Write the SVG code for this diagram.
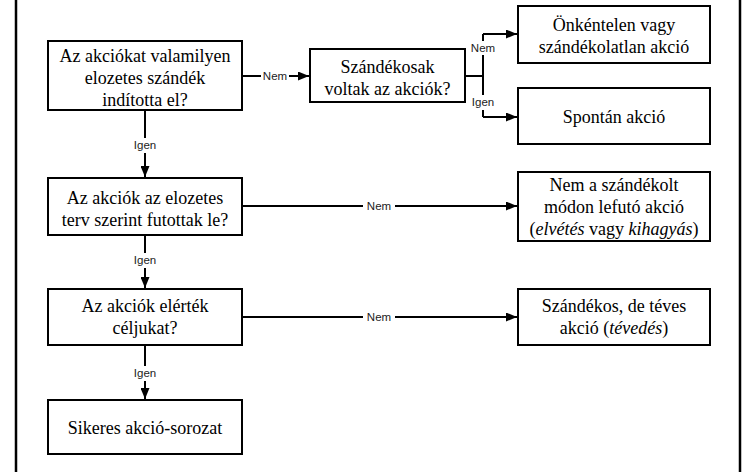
<svg xmlns="http://www.w3.org/2000/svg" width="743" height="472" viewBox="0 0 743 472">
<style>
.box{fill:#fff;stroke:#000;stroke-width:2}
.t{font-size:18px;fill:#000;text-anchor:middle}
.i{font-style:italic}
.c{fill:none;stroke:#000;stroke-width:2}
.lb{font-size:11.5px;fill:#222;text-anchor:middle}
.bg{fill:#fff}
.frame{stroke:#000;stroke-width:2.5}
</style>
<defs>
<marker id="ah" markerUnits="userSpaceOnUse" markerWidth="11" markerHeight="9" refX="11" refY="4.5" orient="auto">
<path d="M0,0 L11,4.5 L0,9 z" fill="#000"/>
</marker>
</defs>
<g id="frame">
<line class="frame" x1="16" y1="0" x2="16" y2="472"/>
<line class="frame" x1="740" y1="0" x2="740" y2="472"/>
</g>
<g id="connectors" font-family="Liberation Sans, Arial, sans-serif">
<path class="c" d="M242,76 H309" marker-end="url(#ah)"/>
<rect class="bg" x="261" y="69" width="28" height="14"/>
<text class="lb" x="275" y="80">Nem</text>
<path class="c" d="M465,76 H483"/>
<path class="c" d="M483,34 V117"/>
<path class="c" d="M483,34 H517" marker-end="url(#ah)"/>
<path class="c" d="M483,117 H517" marker-end="url(#ah)"/>
<rect class="bg" x="469" y="41" width="28" height="14"/>
<text class="lb" x="483" y="52">Nem</text>
<rect class="bg" x="470" y="95" width="26" height="15"/>
<text class="lb" x="483" y="106">Igen</text>
<path class="c" d="M145,110 V177" marker-end="url(#ah)"/>
<rect class="bg" x="132" y="138" width="26" height="15"/>
<text class="lb" x="145" y="149">Igen</text>
<path class="c" d="M145,235 V288" marker-end="url(#ah)"/>
<rect class="bg" x="132" y="253" width="26" height="15"/>
<text class="lb" x="145" y="264">Igen</text>
<path class="c" d="M145,345 V399" marker-end="url(#ah)"/>
<rect class="bg" x="132" y="366" width="26" height="15"/>
<text class="lb" x="145" y="377">Igen</text>
<path class="c" d="M242,206 H517" marker-end="url(#ah)"/>
<rect class="bg" x="363" y="199" width="32" height="14"/>
<text class="lb" x="379" y="210">Nem</text>
<path class="c" d="M242,317 H517" marker-end="url(#ah)"/>
<rect class="bg" x="363" y="310" width="32" height="14"/>
<text class="lb" x="379" y="321">Nem</text>
</g>
<g font-family="Liberation Serif, Times New Roman, serif">
<g id="n1">
<rect class="box" x="48" y="41" width="194" height="69"/>
<text class="t" x="145" y="61.5">Az akciókat valamilyen</text>
<text class="t" x="145" y="83.5">elozetes szándék</text>
<text class="t" x="145" y="105.5">indította el?</text>
</g>
<g id="n2">
<rect class="box" x="310" y="49" width="155" height="53"/>
<text class="t" x="387.5" y="72.5">Szándékosak</text>
<text class="t" x="387.5" y="94.5">voltak az akciók?</text>
</g>
<g id="n3">
<rect class="box" x="518" y="6" width="192" height="57"/>
<text class="t" x="614" y="30.5">Önkéntelen vagy</text>
<text class="t" x="614" y="52.5">szándékolatlan akció</text>
</g>
<g id="n4">
<rect class="box" x="518" y="88" width="192" height="56"/>
<text class="t" x="614" y="123">Spontán akció</text>
</g>
<g id="n5">
<rect class="box" x="48" y="178" width="194" height="57"/>
<text class="t" x="145" y="203.5">Az akciók az elozetes</text>
<text class="t" x="145" y="225.5">terv szerint futottak le?</text>
</g>
<g id="n6">
<rect class="box" x="48" y="289" width="194" height="56"/>
<text class="t" x="145" y="312">Az akciók elérték</text>
<text class="t" x="145" y="334">céljukat?</text>
</g>
<g id="n7">
<rect class="box" x="48" y="400" width="194" height="54"/>
<text class="t" x="145" y="434">Sikeres akció-sorozat</text>
</g>
<g id="n8">
<rect class="box" x="518" y="172" width="192" height="69"/>
<text class="t" x="614" y="190.5">Nem a szándékolt</text>
<text class="t" x="614" y="212.5">módon lefutó akció</text>
<text class="t" x="614" y="234.5">(<tspan class="i">elvétés</tspan> vagy <tspan class="i">kihagyás</tspan>)</text>
</g>
<g id="n9">
<rect class="box" x="518" y="289" width="192" height="56"/>
<text class="t" x="614" y="312">Szándékos, de téves</text>
<text class="t" x="614" y="334">akció (<tspan class="i">tévedés</tspan>)</text>
</g>
</g>
</svg>
